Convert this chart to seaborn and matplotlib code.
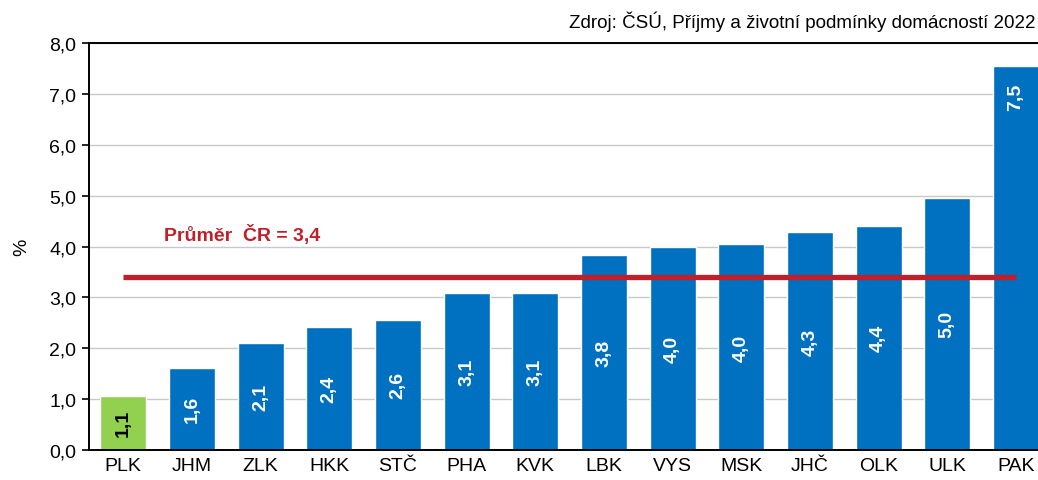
import numpy as np
import pandas as pd
import matplotlib
matplotlib.use("Agg")
import matplotlib.pyplot as plt
import seaborn as sns

# data
regions = ["PLK", "JHM", "ZLK", "HKK", "STČ", "PHA", "KVK",
           "LBK", "VYS", "MSK", "JHČ", "OLK", "ULK", "PAK"]
values = [1.07, 1.62, 2.10, 2.42, 2.56, 3.08, 3.08,
          3.84, 3.99, 4.04, 4.28, 4.41, 4.96, 7.54]
average = 3.4
source = "Zdroj: ČSÚ, Příjmy a životní podmínky domácností 2022"
avg_label = "Průměr  ČR = 3,4"

sns.set_style("white")
plt.rcParams["font.family"] = ["Liberation Sans", "DejaVu Sans"]
plt.rcParams["text.color"] = "black"
plt.rcParams["xtick.color"] = "black"
plt.rcParams["ytick.color"] = "black"
plt.rcParams["axes.labelcolor"] = "black"

df = pd.DataFrame({"kraj": regions, "podil": values})
colors = ["#92D050"] + ["#0070C0"] * (len(regions) - 1)

fig = plt.figure(figsize=(10.38, 4.81), dpi=100)
ax = fig.add_axes([0.0857, 0.0624, 0.926, 0.846])

sns.barplot(data=df, x="kraj", y="podil", hue="kraj", palette=colors,
            legend=False, width=0.67, saturation=1, ax=ax, zorder=2)

# value labels inside bars
for i, cont in enumerate(ax.containers):
    txt = [f"{v:.1f}".replace(".", ",") for v in cont.datavalues]
    col = "black" if i == 0 else "white"
    if regions[i] == "PAK":
        ax.bar_label(cont, labels=txt, label_type="edge", padding=-31,
                     rotation=90, color=col, fontsize=14, fontweight="bold")
    else:
        ax.bar_label(cont, labels=txt, label_type="center", rotation=90,
                     color=col, fontsize=14, fontweight="bold")

# national average
ax.hlines(average, 0, len(regions) - 1, color="#C0202A", lw=3.8, zorder=3)
ax.text(0.6, average + 0.85, avg_label, color="#C0202A", fontsize=14,
        fontweight="bold", va="center", ha="left")

ax.set_ylim(0, 8)
ax.set_xlim(-0.5, len(regions) - 0.5)
ticks = np.arange(0, 8.1, 1.0)
ax.set_yticks(ticks)
ax.set_yticklabels([f"{t:.1f}".replace(".", ",") for t in ticks], fontsize=14)
ax.yaxis.grid(True, color="#C8C8C8", lw=1, zorder=0)
ax.set_axisbelow(True)

ax.set_xticks(np.arange(len(regions)))
ax.set_xticklabels(regions, fontsize=14)
ax.set_xticks(np.arange(len(regions)) - 0.5, minor=True)
ax.tick_params(axis="x", which="major", length=0, pad=5)
ax.tick_params(axis="x", which="minor", length=5, width=1.2, direction="out",
               color="black")
ax.tick_params(axis="y", length=5, width=1.2, direction="out", color="black",
               left=True, pad=4)

ax.set_xlabel("")
ax.set_ylabel("%", fontsize=14, labelpad=14)

for s in ["left", "bottom", "top"]:
    ax.spines[s].set_visible(True)
    ax.spines[s].set_color("black")
    ax.spines[s].set_linewidth(1.4)
ax.spines["right"].set_visible(False)

fig.text(0.998, 0.955, source, ha="right", va="center", fontsize=13.5)

fig.savefig("out.png", dpi=100)
